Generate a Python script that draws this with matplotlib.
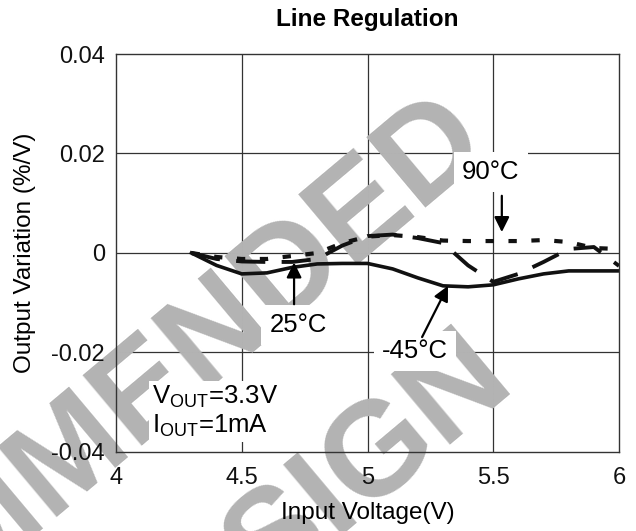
import numpy as np
import matplotlib.pyplot as plt

plt.rcParams['font.family'] = ['Liberation Sans', 'DejaVu Sans']
plt.rcParams['mathtext.default'] = 'regular'

# input voltage (V) and output variation (%/V)
vin = [4.3, 4.4, 4.5, 4.6, 4.7, 4.8, 4.9, 5.0, 5.1, 5.2, 5.3, 5.4, 5.5, 5.6, 5.7, 5.8, 5.9, 6.0]
var_m45 = [0.0, -0.0025, -0.0042, -0.0040, -0.0029, -0.0022, -0.0021, -0.0021, -0.0032, -0.0050,
           -0.0066, -0.0068, -0.0064, -0.0052, -0.0042, -0.0036, -0.0036, -0.0036]
var_25 = [0.0, -0.0012, -0.0017, -0.0018, -0.0018, -0.0012, 0.0015, 0.0034, 0.0037, 0.0030,
          0.0020, -0.0025, -0.0058, -0.0042, -0.0018, 0.0008, 0.0012, -0.0026]
var_90 = [0.0, -0.0008, -0.0012, -0.0012, -0.0006, 0.0000, 0.0020, 0.0033, 0.0036, 0.0032,
          0.0025, 0.0024, 0.0024, 0.0024, 0.0026, 0.0022, 0.0010, 0.0008]

xticks = [4, 4.5, 5, 5.5, 6]
xtick_labels = ['4', '4.5', '5', '5.5', '6']
yticks = [-0.04, -0.02, 0, 0.02, 0.04]
ytick_labels = ['-0.04', '-0.02', '0', '0.02', '0.04']

fig = plt.figure(figsize=(6.36, 5.31), dpi=100)
ax = fig.add_axes([0.1824, 0.1488, 0.7909, 0.7495])

# grid drawn by hand so the watermark can sit between grid and curves
for x in xticks[1:-1]:
    ax.axvline(x, color='#333333', lw=0.9, zorder=1)
for y in yticks[1:-1]:
    ax.axhline(y, color='#333333', lw=0.9, zorder=1)

# watermark
wm = dict(fontsize=96, fontweight='bold', color='#b3b3b3', rotation=40,
          ha='center', va='center', rotation_mode='anchor',
          transform=fig.transFigure, clip_on=False, zorder=1.5)
ax.text(-0.099, -0.077, 'NOT RECOMMENDED', **wm)
ax.text(0.069, -0.394, 'FOR NEW DESIGN', **wm)

ink = '#111111'
ax.plot(vin, var_m45, color=ink, lw=2.6, zorder=2.2)
ax.plot(vin, var_25, color=ink, lw=2.8, ls=(0, (7.5, 4.2)), zorder=2.1)
ax.plot(vin, var_90, color=ink, lw=3.0, ls=(0, (2, 3.5)), zorder=2.0)

box = dict(facecolor='white', edgecolor='none', pad=6)
ax.text(5.49, 0.0163, '90°C', fontsize=18.5, ha='center', va='center', bbox=box, zorder=3)
ax.text(4.724, -0.0145, '25°C', fontsize=18.5, ha='center', va='center', bbox=box, zorder=3)
ax.text(5.189, -0.0197, '-45°C', fontsize=18.5, ha='center', va='center', bbox=box, zorder=3)
ax.text(4.143, -0.0319, 'V$_{OUT}$=3.3V\nI$_{OUT}$=1mA', fontsize=18.5, ha='left', va='center',
        linespacing=1.15, bbox=dict(facecolor='white', edgecolor='none', pad=2), zorder=3)

arrow = dict(arrowstyle='-|>,head_length=0.5,head_width=0.25', color='black', lw=1.6,
             mutation_scale=18, shrinkA=0, shrinkB=0)
ax.annotate('', xy=(5.534, 0.0042), xytext=(5.534, 0.0115), arrowprops=arrow, zorder=4)
ax.annotate('', xy=(4.708, -0.0019), xytext=(4.708, -0.0103), arrowprops=arrow, zorder=4)
ax.annotate('', xy=(5.32, -0.0066), xytext=(5.217, -0.0169), arrowprops=arrow, zorder=4)

ax.set_xlim(4, 6)
ax.set_ylim(-0.04, 0.04)
ax.set_xticks(xticks)
ax.set_xticklabels(xtick_labels)
ax.set_yticks(yticks)
ax.set_yticklabels(ytick_labels)
ax.tick_params(axis='both', length=0, labelsize=17, colors='#111111')
ax.tick_params(axis='x', pad=11)
ax.tick_params(axis='y', pad=8)
ax.set_axisbelow(False)
for s in ax.spines.values():
    s.set_color('#333333')
    s.set_linewidth(1.0)

ax.set_xlabel('Input Voltage(V)', fontsize=17.5)
ax.xaxis.set_label_coords(0.5, -0.125)
ax.set_ylabel('Output Variation (%/V)', fontsize=17.5)
ax.yaxis.set_label_coords(-0.16, 0.5)
ax.set_title('Line Regulation', fontsize=17.5, fontweight='bold', pad=20)

plt.savefig('out.png', dpi=100)
